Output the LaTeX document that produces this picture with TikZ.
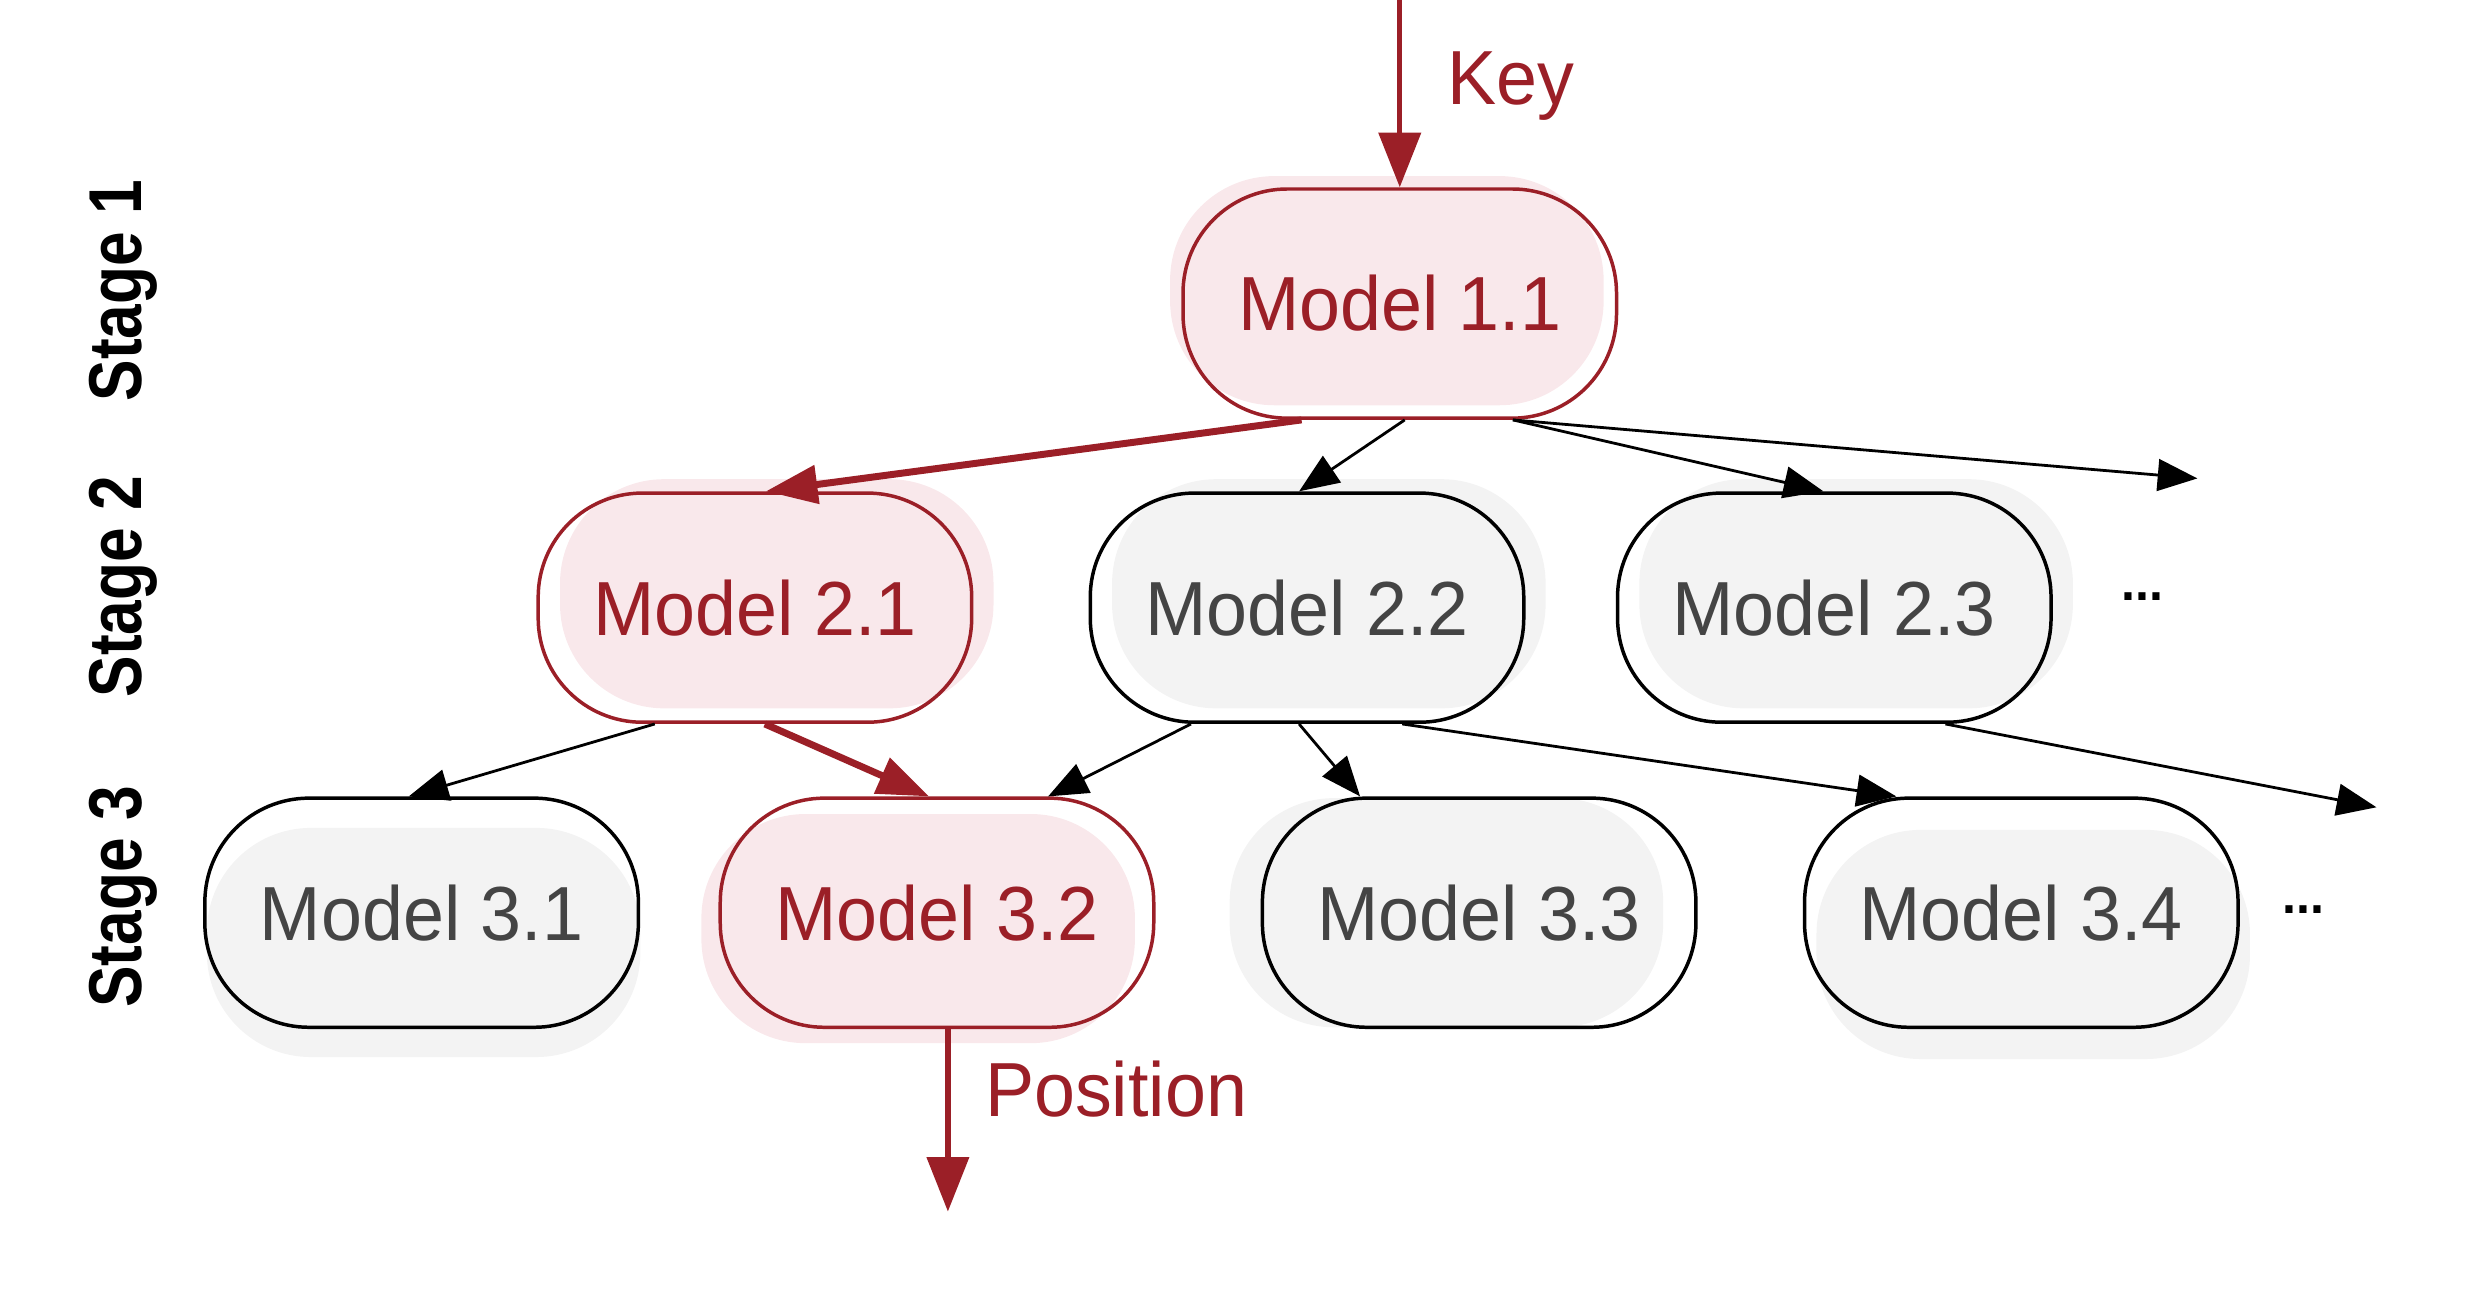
\documentclass[tikz,border=0pt]{standalone}
\usepackage{fontspec}
\setmainfont[FakeStretch=0.96]{Liberation Sans}
\newfontfamily\etapafont[FakeStretch=0.83]{Liberation Sans}
\usepackage{tikz}
\usetikzlibrary{positioning,arrows.meta,shadows}
\definecolor{crojo}{HTML}{9B1F27}
\definecolor{crosa}{HTML}{F9E8EB}
\definecolor{cgrisf}{HTML}{F3F3F3}
\definecolor{cgrist}{HTML}{444444}
\tikzset{
  modelo/.style={rectangle, rounded corners=1.05cm, draw=black, line width=1pt,
    minimum width=4.37cm, minimum height=2.31cm, inner sep=0pt, text=cgrist,
    font=\fontsize{22}{26}\selectfont},
  modelor/.style={modelo, draw=crojo, text=crojo},
  flecha/.style={-{Triangle[length=4mm,width=3.2mm]}, line width=0.8pt},
  flechar/.style={-{Triangle[length=5.2mm,width=3.8mm]}, line width=2pt, draw=crojo},
  flechaio/.style={-{Triangle[length=5.5mm,width=4.2mm]}, line width=1.5pt, draw=crojo},
  etiq/.style={text=crojo, font=\fontsize{22}{26}\selectfont},
  etapa/.style={rotate=90, anchor=base, font=\etapafont\bfseries\fontsize{21.5}{24}\selectfont},
  puntos/.style={font=\bfseries\fontsize{15}{15}\selectfont},
}

\begin{document}
\begin{tikzpicture}
  \useasboundingbox (0,0) rectangle (25.09,-13.04);
  % modelos
  \node[modelor, general shadow={fill=crosa, shadow xshift=-0.13cm, shadow yshift=0.13cm}] (m11) at (14.11,-3.06) {Model 1.1};
  \node[modelor, general shadow={fill=crosa, shadow xshift=0.22cm, shadow yshift=0.14cm}, below=0.72cm of m11, xshift=-6.5cm] (m21) {Model 2.1};
  \node[modelo, general shadow={fill=cgrisf, shadow xshift=0.22cm, shadow yshift=0.14cm}, right=1.16cm of m21] (m22) {Model 2.2};
  \node[modelo, general shadow={fill=cgrisf, shadow xshift=0.22cm, shadow yshift=0.14cm}, right=0.91cm of m22] (m23) {Model 2.3};
  \node[modelo, general shadow={fill=cgrisf, shadow xshift=0.02cm, shadow yshift=-0.3cm}, below=0.73cm of m21, xshift=-3.36cm] (m31) {Model 3.1};
  \node[modelor, general shadow={fill=crosa, shadow xshift=-0.19cm, shadow yshift=-0.16cm}, right=0.79cm of m31] (m32) {Model 3.2};
  \node[modelo, general shadow={fill=cgrisf, shadow xshift=-0.33cm, shadow yshift=0cm}, right=1.06cm of m32] (m33) {Model 3.3};
  \node[modelo, general shadow={fill=cgrisf, shadow xshift=0.12cm, shadow yshift=-0.32cm}, right=1.06cm of m33] (m34) {Model 3.4};
  \node[puntos] (p2) at ([xshift=0.9cm, yshift=0.11cm]m23.east) {...};
  \node[puntos] (p3) at ([xshift=0.64cm, yshift=0.03cm]m34.east) {...};
  % etapas
  \coordinate (col) at ([xshift=-0.62cm]m31.west);
  \coordinate (c1) at (col |- m11);
  \coordinate (c2) at (col |- m21);
  \coordinate (c3) at (col |- m31);
  \node[etapa] (e1) at ([yshift=0.13cm]c1) {Stage 1};
  \node[etapa] (e2) at ([yshift=0.21cm]c2) {Stage 2};
  \node[etapa] (e3) at ([yshift=0.16cm]c3) {Stage 3};
  % entrada y salida
  \coordinate (clave) at ([yshift=1.9cm]m11.north);
  \draw[flechaio] (clave) -- (m11.north);
  \node[etiq, anchor=base west] (tclave) at ([xshift=0.36cm, yshift=0.83cm]m11.north) {Key};
  \coordinate (salida) at ([xshift=0.11cm, yshift=-1.84cm]m32.south);
  \draw[flechaio] ([xshift=0.11cm]m32.south) -- (salida);
  \node[etiq, anchor=base west] (tpos) at ([xshift=0.36cm, yshift=-0.88cm]m32.south) {Position};
  % flechas
  \draw[flechar] ([xshift=-0.99cm]m11.south) -- ([xshift=0.11cm]m21.north);
  \draw[flecha] ([xshift=0.05cm]m11.south) -- ([xshift=-0.08cm]m22.north);
  \draw[flecha] ([xshift=1.14cm]m11.south) -- ([xshift=-0.11cm]m23.north);
  \coordinate (sig2) at ([xshift=3.66cm, yshift=0.13cm]m23.north);
  \draw[flecha] ([xshift=1.14cm]m11.south) -- (sig2);
  \draw[flecha] ([xshift=-1.01cm]m21.south) -- ([xshift=-0.13cm]m31.north);
  \draw[flechar] ([xshift=0.1cm]m21.south) -- ([xshift=-0.08cm]m32.north);
  \draw[flecha] ([xshift=-1.17cm]m22.south) -- ([xshift=1.12cm]m32.north);
  \draw[flecha] ([xshift=-0.08cm]m22.south) -- ([xshift=-1.2cm]m33.north);
  \draw[flecha] ([xshift=0.96cm]m22.south) -- ([xshift=-1.26cm]m34.north);
  \coordinate (sig3) at ([xshift=3.58cm, yshift=-0.11cm]m34.north);
  \draw[flecha] ([xshift=1.12cm]m23.south) -- (sig3);
\end{tikzpicture}
\end{document}
